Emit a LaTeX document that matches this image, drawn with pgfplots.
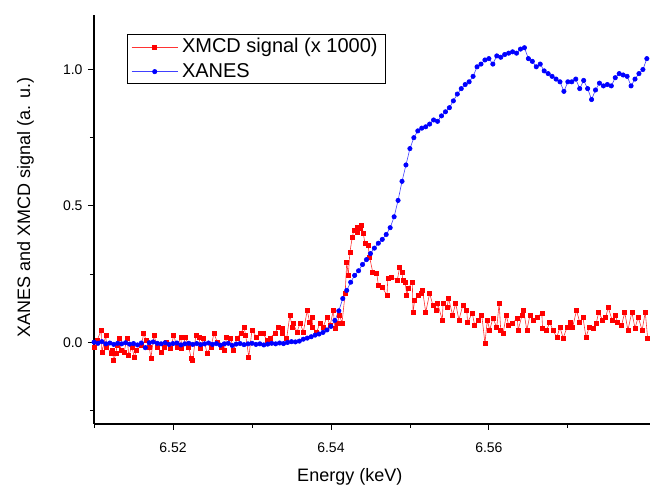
\documentclass[border=0pt]{standalone}
\usepackage{fontspec}
\setmainfont{Liberation Sans}
\usepackage{pgfplots}
\pgfplotsset{compat=1.18}
\begin{document}
\begin{tikzpicture}
\useasboundingbox (-94pt,-62pt) rectangle (556pt,424pt);
\begin{axis}[
  scale only axis, width=556pt, height=409pt,
  xmin=6.51, xmax=6.5804, ymin=-0.3, ymax=1.2,
  axis x line*=bottom, axis y line*=left,
  axis line style={line width=1.1pt},
  tick align=outside, major tick length=6pt, minor tick length=4pt,
  tick style={black, line width=0.8pt},
  xtick={6.52,6.54,6.56}, minor xtick={6.51,6.53,6.55,6.57},
  ytick={0,0.5,1}, minor ytick={-0.25,0.25,0.75},
  xticklabel style={yshift=-9pt, /pgf/number format/.cd, fixed, fixed zerofill, precision=2},
  yticklabel style={xshift=-2pt, /pgf/number format/.cd, fixed, fixed zerofill, precision=1},
  /pgf/number format/assume math mode=true,
  ticklabel style={font=\fontsize{14}{16}\selectfont},
  xlabel={Energy (keV)}, ylabel={XANES and XMCD signal (a. u.)},
  label style={font=\fontsize{18}{20}\selectfont},
  xlabel style={at={(axis description cs:0.46,-0.1394)}, anchor=base},
  ylabel style={at={(axis description cs:-0.1151,0.53)}, anchor=base},
  legend cell align=left,
  legend style={at={(axis description cs:0.0594,0.9535)}, anchor=north west,
    draw=black, line width=0.8pt, font=\fontsize{20}{22}\selectfont,
    inner xsep=4pt, inner ysep=2pt, row sep=4pt,
    nodes={inner xsep=4pt, text depth=0.25em}},
  legend image code/.code={\draw[mark repeat=2,mark phase=2] plot coordinates {(0pt,0pt) (23pt,0pt) (46pt,0pt)};},
]
\addplot[color=red!80, line width=0.6pt, mark=square*, mark size=2pt, mark options={fill=red, draw=red, solid}] table {
E S
6.5100 -0.018
6.5104 0.007
6.5109 0.044
6.5110 -0.037
6.5115 0.026
6.5116 -0.018
6.5122 -0.040
6.5123 -0.029
6.5125 -0.066
6.5128 -0.040
6.5129 -0.011
6.5132 0.015
6.5134 -0.029
6.5138 -0.037
6.5142 0.015
6.5144 -0.048
6.5148 -0.018
6.5151 -0.055
6.5154 -0.029
6.5160 -0.011
6.5163 0.033
6.5166 0.007
6.5170 -0.018
6.5172 -0.059
6.5176 0.026
6.5180 -0.018
6.5185 -0.037
6.5189 -0.018
6.5192 0.000
6.5197 -0.022
6.5201 0.026
6.5205 -0.018
6.5210 0.018
6.5211 -0.022
6.5216 0.018
6.5220 -0.018
6.5223 -0.059
6.5225 -0.066
6.5229 0.026
6.5233 0.018
6.5235 -0.022
6.5239 0.015
6.5243 -0.040
6.5248 -0.018
6.5252 0.033
6.5256 0.000
6.5261 -0.018
6.5265 -0.029
6.5268 0.018
6.5273 0.015
6.5277 -0.029
6.5281 0.015
6.5286 0.033
6.5290 0.055
6.5292 0.026
6.5296 -0.055
6.5300 0.044
6.5306 0.018
6.5310 0.033
6.5314 0.033
6.5319 0.007
6.5323 0.015
6.5329 0.033
6.5333 0.055
6.5338 0.051
6.5339 0.033
6.5344 0.015
6.5348 0.099
6.5351 0.055
6.5352 0.070
6.5357 0.037
6.5361 0.070
6.5365 0.037
6.5370 0.117
6.5373 0.073
6.5376 0.092
6.5377 0.055
6.5382 0.037
6.5386 0.070
6.5390 0.055
6.5395 0.092
6.5399 0.062
6.5403 0.117
6.5405 0.051
6.5408 0.070
6.5411 0.099
6.5414 0.070
6.5418 0.179
6.5420 0.293
6.5422 0.245
6.5424 0.330
6.5427 0.385
6.5429 0.410
6.5433 0.421
6.5434 0.403
6.5437 0.418
6.5439 0.429
6.5441 0.399
6.5443 0.363
6.5447 0.355
6.5449 0.311
6.5453 0.256
6.5458 0.253
6.5460 0.209
6.5465 0.201
6.5471 0.172
6.5472 0.234
6.5477 0.238
6.5484 0.227
6.5487 0.275
6.5490 0.256
6.5491 0.227
6.5494 0.220
6.5496 0.172
6.5498 0.198
6.5503 0.220
6.5504 0.110
6.5506 0.154
6.5510 0.172
6.5515 0.179
6.5516 0.190
6.5520 0.110
6.5525 0.179
6.5529 0.136
6.5534 0.117
6.5535 0.143
6.5541 0.081
6.5542 0.143
6.5547 0.128
6.5549 0.161
6.5554 0.099
6.5558 0.143
6.5562 0.081
6.5567 0.136
6.5572 0.117
6.5573 0.073
6.5579 0.106
6.5582 0.062
6.5586 0.081
6.5591 0.099
6.5595 -0.004
6.5598 0.081
6.5601 0.044
6.5605 0.088
6.5610 0.055
6.5613 0.143
6.5615 0.044
6.5618 0.033
6.5622 0.099
6.5625 0.062
6.5630 0.070
6.5636 0.088
6.5637 0.044
6.5642 0.099
6.5644 0.117
6.5648 0.044
6.5652 0.099
6.5656 0.081
6.5661 0.092
6.5667 0.106
6.5668 0.051
6.5673 0.044
6.5677 0.073
6.5681 0.044
6.5686 0.018
6.5690 0.055
6.5694 0.015
6.5699 0.055
6.5703 0.073
6.5706 0.055
6.5711 0.117
6.5715 0.073
6.5719 0.092
6.5723 0.018
6.5727 0.055
6.5732 0.051
6.5736 0.070
6.5739 0.110
6.5744 0.081
6.5748 0.092
6.5751 0.128
6.5756 0.081
6.5760 0.099
6.5763 0.073
6.5768 0.062
6.5772 0.110
6.5776 0.044
6.5781 0.110
6.5785 0.051
6.5789 0.092
6.5794 0.044
6.5798 0.110
6.5801 0.015
};
\addlegendentry{XMCD signal (x 1000)}
\addplot[color=blue!75, line width=0.6pt, mark=*, mark size=2.2pt, mark options={fill=blue, draw=blue, solid}] table {
E A
6.5100 0.000
6.5105 -0.004
6.5110 0.002
6.5115 -0.006
6.5120 -0.003
6.5125 -0.008
6.5130 -0.004
6.5135 -0.006
6.5140 -0.002
6.5145 -0.007
6.5150 -0.005
6.5155 -0.010
6.5160 -0.003
6.5165 -0.020
6.5170 -0.002
6.5175 0.001
6.5180 -0.004
6.5185 -0.006
6.5190 -0.002
6.5195 -0.008
6.5200 -0.005
6.5205 -0.003
6.5210 -0.010
6.5215 -0.006
6.5220 -0.004
6.5225 -0.008
6.5230 -0.005
6.5235 -0.009
6.5240 -0.006
6.5245 -0.003
6.5250 -0.008
6.5255 -0.005
6.5260 -0.011
6.5265 -0.006
6.5270 -0.004
6.5275 -0.012
6.5280 -0.007
6.5285 -0.005
6.5290 -0.009
6.5295 -0.006
6.5300 -0.004
6.5305 -0.008
6.5310 -0.006
6.5315 -0.010
6.5320 -0.007
6.5325 -0.004
6.5330 -0.006
6.5335 -0.003
6.5340 -0.005
6.5345 -0.001
6.5350 0.002
6.5355 0.001
6.5360 0.004
6.5365 0.011
6.5370 0.015
6.5375 0.020
6.5380 0.026
6.5385 0.030
6.5390 0.036
6.5395 0.045
6.5400 0.058
6.5405 0.080
6.5410 0.115
6.5415 0.160
6.5420 0.190
6.5425 0.220
6.5430 0.245
6.5435 0.262
6.5440 0.285
6.5445 0.303
6.5450 0.325
6.5455 0.345
6.5460 0.363
6.5465 0.377
6.5470 0.395
6.5475 0.420
6.5480 0.460
6.5485 0.520
6.5490 0.590
6.5495 0.650
6.5500 0.710
6.5505 0.750
6.5510 0.775
6.5515 0.785
6.5520 0.790
6.5525 0.800
6.5530 0.815
6.5535 0.810
6.5540 0.830
6.5545 0.845
6.5550 0.860
6.5555 0.885
6.5560 0.910
6.5565 0.930
6.5570 0.945
6.5575 0.955
6.5580 0.975
6.5585 1.010
6.5590 1.020
6.5595 1.035
6.5600 1.040
6.5605 1.020
6.5610 1.050
6.5615 1.045
6.5620 1.055
6.5625 1.060
6.5630 1.065
6.5635 1.060
6.5640 1.075
6.5645 1.080
6.5650 1.040
6.5655 1.030
6.5660 1.010
6.5665 1.020
6.5670 0.995
6.5675 0.985
6.5680 0.975
6.5685 0.965
6.5690 0.955
6.5695 0.920
6.5700 0.955
6.5705 0.955
6.5710 0.965
6.5715 0.930
6.5720 0.960
6.5725 0.930
6.5730 0.890
6.5735 0.925
6.5740 0.950
6.5745 0.940
6.5750 0.945
6.5755 0.940
6.5760 0.970
6.5765 0.985
6.5770 0.980
6.5775 0.975
6.5780 0.940
6.5785 0.965
6.5790 0.985
6.5795 1.000
6.5800 1.040
};
\addlegendentry{XANES}
\end{axis}
\end{tikzpicture}
\end{document}
